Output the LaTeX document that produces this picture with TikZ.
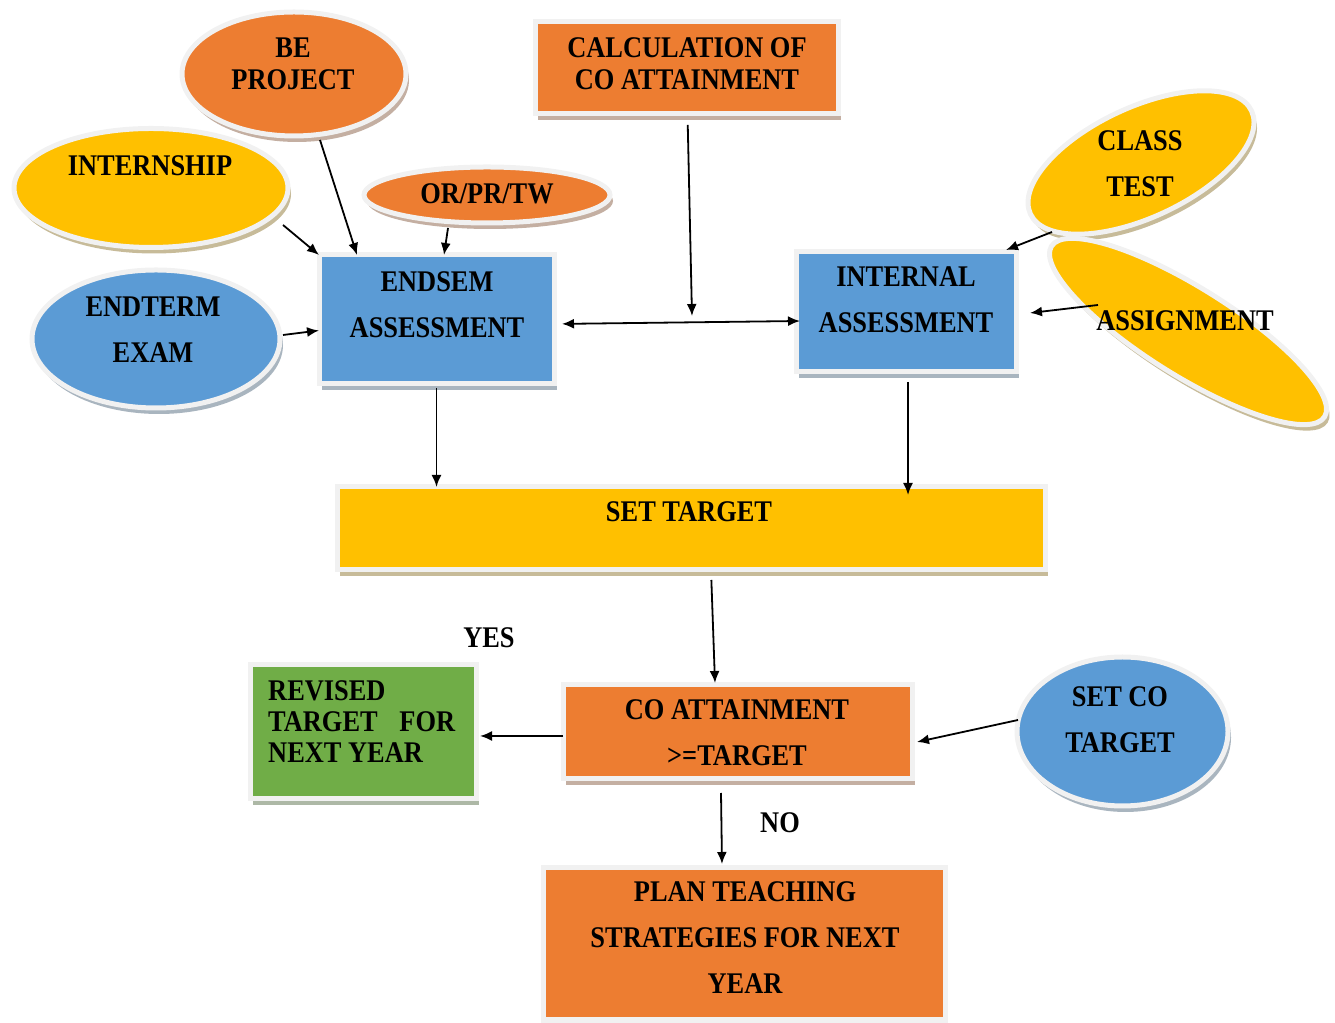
\documentclass[tikz,border=0pt]{standalone}
\usepackage{fontspec}
\setmainfont{Liberation Serif}[FakeStretch=0.88]
\usetikzlibrary{shapes.geometric,shadows,arrows.meta}

\definecolor{cOrange}{HTML}{ED7D31}
\definecolor{cYellow}{HTML}{FFC000}
\definecolor{cBlue}{HTML}{5B9BD5}
\definecolor{cGreen}{HTML}{70AD47}
\definecolor{cRim}{HTML}{F1F1F1}

\begin{document}
\begin{tikzpicture}[x=1pt,y=1pt,
  shapebase/.style={draw=cRim, line width=5pt, inner sep=0pt, outer sep=0pt, fill=#1,
    drop shadow={shadow xshift=3pt, shadow yshift=-6pt, fill=#1!45!black, opacity=0.4}},
  boxshape/.style={shapebase=#1, rectangle},
  oval/.style={shapebase=#1, ellipse},
  lbl/.style={inner sep=0pt, align=center, font=\bfseries\fontsize{30}{46}\selectfont},
  tight/.style={font=\bfseries\fontsize{30}{32}\selectfont},
  arr/.style={-{Latex[length=12pt,width=10pt]}, line width=1.8pt},
  darr/.style={{Latex[length=12pt,width=10pt]}-{Latex[length=12pt,width=10pt]}, line width=1.8pt},
]
\useasboundingbox (0,0) rectangle (1335,1022);

% ---- shapes ----
\node[oval=cOrange, minimum width=224, minimum height=124] (bep) at (294,948) {};
\node[oval=cYellow, minimum width=274, minimum height=119] (intern) at (151,834) {};
\node[oval=cOrange, minimum width=246, minimum height=56] (orpr) at (487,827) {};
\node[oval=cBlue, minimum width=248, minimum height=138] (endterm) at (156,683) {};
\node[boxshape=cBlue, minimum width=235, minimum height=129] (endsem) at (436.5,702.5) {};
\node[boxshape=cOrange, minimum width=303, minimum height=92] (calc) at (686.5,954) {};
\node[boxshape=cBlue, minimum width=220, minimum height=120] (internal) at (906,710) {};
\node[oval=cYellow, rotate=25, minimum width=244, minimum height=110] (ct) at (1141,859.5) {};
\node[oval=cYellow, rotate=-32, minimum width=322, minimum height=88] (assign) at (1188,690.5) {};
\node[boxshape=cYellow, minimum width=708, minimum height=83] (settarget) at (691,493.5) {};
\node[boxshape=cOrange, minimum width=349, minimum height=94] (coatt) at (737.5,290) {};
\node[boxshape=cGreen, minimum width=226, minimum height=134] (revised) at (363,290) {};
\node[oval=cBlue, minimum width=211, minimum height=149] (setco) at (1122.5,290.5) {};
\node[boxshape=cOrange, minimum width=402, minimum height=152] (plan) at (744,78) {};

% ---- texts ----
\node[lbl, tight] (bep-t) at (293,958) {BE\\PROJECT};
\node[lbl] (intern-t) at (150,856) {INTERNSHIP};
\node[lbl] (orpr-t) at (487,828) {OR/PR/TW};
\node[lbl] (endterm-t) at (153,692) {ENDTERM\\EXAM};
\node[lbl] (endsem-t) at (437,717) {ENDSEM\\ASSESSMENT};
\node[lbl, tight] (calc-t) at (687,958) {CALCULATION OF\\CO ATTAINMENT};
\node[lbl] (internal-t) at (906,722) {INTERNAL\\ASSESSMENT};
\node[lbl] (ct-t) at (1140,858) {CLASS\\TEST};
\node[lbl] (assign-t) at (1185,701) {ASSIGNMENT};
\node[lbl] (settarget-t) at (689,510) {SET TARGET};
\node[lbl] (coatt-t) at (737,289) {CO ATTAINMENT\\>=TARGET};
\node[lbl, align=left, anchor=west, font=\bfseries\fontsize{30}{31}\selectfont] (revised-t) at (268,300)
  {REVISED\\\makebox[187pt][s]{TARGET FOR}\\NEXT YEAR};
\node[lbl] (setco-t) at (1120,302) {SET CO\\TARGET};
\node[lbl] (plan-t) at (745,84) {PLAN TEACHING\\STRATEGIES FOR NEXT\\YEAR};
\node[lbl] (yes) at (489,384) {YES};
\node[lbl] (no) at (780,199) {NO};

% ---- connectors ----
\coordinate (hub) at (692,706);
\draw[arr] ([shift={(26,-66)}]bep.center) -- ([xshift=38]endsem.north west);
\draw[arr] ([shift={(132,-37)}]intern.center) -- (endsem.north west);
\draw[arr] ([shift={(-39,-33)}]orpr.center) -- ([xshift=125]endsem.north west);
\draw[arr] ([shift={(127,4)}]endterm.center) -- ([yshift=-11]endsem.west);
\draw[arr, shorten <=11pt] ([xshift=1]calc.south) -- (hub);
\draw[darr, shorten <=8pt] ([yshift=-4.5]endsem.east) -- ([shift={(4,-9)}]internal.west);
\draw[arr, shorten <=4pt] (endsem.south) -- (endsem.south |- settarget.north);
\draw[arr, shorten <=10pt, shorten >=-8pt] ([xshift=2]internal.south) -- ([xshift=2]internal.south |- settarget.north);
\draw[arr] ([shift={(-89,-69.5)}]ct.center) -- ([shift={(-10,2)}]internal.north east);
\draw[arr] ([shift={(-90,26.5)}]assign.center) -- ([shift={(14,-1)}]internal.east);
\draw[arr, shorten <=10pt] ([xshift=20]settarget.south) -- ([shift={(-22.5,2)}]coatt.north);
\draw[arr] ([yshift=-4]coatt.west) -- ([shift={(4,-4)}]revised.east);
\draw[arr] ([shift={(-104.5,11.5)}]setco.center) -- ([shift={(5,-10)}]coatt.east);
\draw[arr] ([shift={(-16.5,-14)}]coatt.south) -- ([shift={(-22,4)}]plan.north);
\end{tikzpicture}
\end{document}
